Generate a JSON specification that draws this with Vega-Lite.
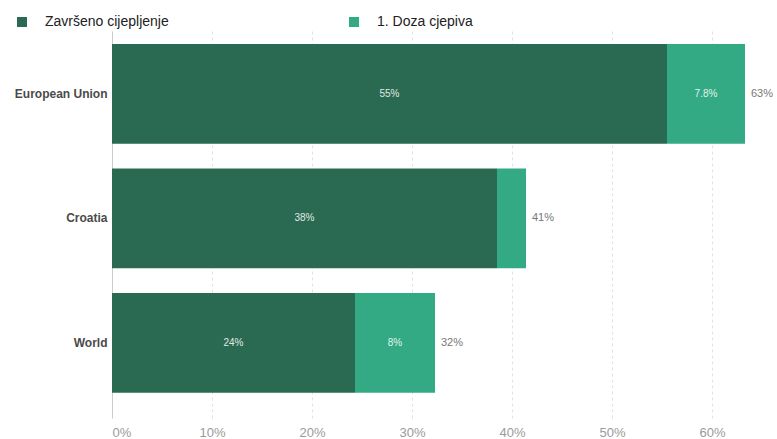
{
  "$schema": "https://vega.github.io/schema/vega-lite/v6.json",
  "autosize": {"type": "none"},
  "padding": {"left": 112, "top": 31, "right": 15, "bottom": 21},
  "width": 650,
  "height": 387,
  "background": "white",
  "config": {
    "font": "Liberation Sans",
    "view": {"stroke": null}
  },
  "datasets": {
    "segments": [
      {"country": "European Union", "series": "Završeno cijepljenje", "ord": 1, "value": 55.5, "label": "55%"},
      {"country": "European Union", "series": "1. Doza cjepiva", "ord": 2, "value": 7.8, "label": "7.8%"},
      {"country": "Croatia", "series": "Završeno cijepljenje", "ord": 1, "value": 38.5, "label": "38%"},
      {"country": "Croatia", "series": "1. Doza cjepiva", "ord": 2, "value": 2.9, "label": ""},
      {"country": "World", "series": "Završeno cijepljenje", "ord": 1, "value": 24.3, "label": "24%"},
      {"country": "World", "series": "1. Doza cjepiva", "ord": 2, "value": 8.0, "label": "8%"}
    ],
    "totals": [
      {"country": "European Union", "total": 63.3, "label": "63%"},
      {"country": "Croatia", "total": 41.4, "label": "41%"},
      {"country": "World", "total": 32.3, "label": "32%"}
    ]
  },
  "encoding": {
    "y": {
      "field": "country",
      "type": "nominal",
      "sort": ["European Union", "Croatia", "World"],
      "scale": {"paddingInner": 0.2, "paddingOuter": 0.154, "align": 0.34},
      "axis": {
        "title": null,
        "ticks": false,
        "domain": true,
        "domainColor": "#cccccc",
        "labelFontWeight": "bold",
        "labelFontSize": 12,
        "labelColor": "#4a4a4a",
        "labelPadding": 5
      }
    }
  },
  "layer": [
    {
      "data": {"name": "segments"},
      "mark": {"type": "bar"},
      "encoding": {
        "x": {
          "field": "value",
          "type": "quantitative",
          "stack": "zero",
          "scale": {"domain": [0, 65], "nice": false},
          "axis": {
            "title": null,
            "values": [0, 10, 20, 30, 40, 50, 60],
            "labelExpr": "datum.value + '%'",
            "ticks": false,
            "domain": false,
            "grid": true,
            "gridDash": [3, 3],
            "gridColor": "#e2e2e2",
            "labelFlush": true,
            "labelFontSize": 13,
            "labelColor": "#9a9a9a",
            "labelPadding": 8
          }
        },
        "color": {
          "field": "series",
          "type": "nominal",
          "scale": {"domain": ["Završeno cijepljenje", "1. Doza cjepiva"], "range": ["#2a6a52", "#33aa83"]},
          "legend": {
            "title": null,
            "orient": "none",
            "legendX": -97,
            "legendY": -16,
            "direction": "horizontal",
            "columns": 2,
            "columnPadding": 178,
            "gridAlign": "each",
            "padding": 0,
            "symbolType": "square",
            "symbolSize": 100,
            "symbolStrokeWidth": 0,
            "labelFontSize": 14,
            "labelColor": "#222222",
            "labelOffset": 16
          }
        },
        "order": {"field": "ord"}
      }
    },
    {
      "data": {"name": "segments"},
      "mark": {"type": "text", "fontSize": 10, "color": "#ffffff", "opacity": 0.85},
      "encoding": {
        "x": {"field": "value", "type": "quantitative", "stack": "zero", "bandPosition": 0.5},
        "text": {"field": "label"},
        "detail": {"field": "series"},
        "order": {"field": "ord"}
      }
    },
    {
      "data": {"name": "totals"},
      "mark": {"type": "text", "fontSize": 11, "color": "#777777", "align": "left", "dx": 6},
      "encoding": {
        "x": {"field": "total", "type": "quantitative"},
        "text": {"field": "label"}
      }
    }
  ]
}
